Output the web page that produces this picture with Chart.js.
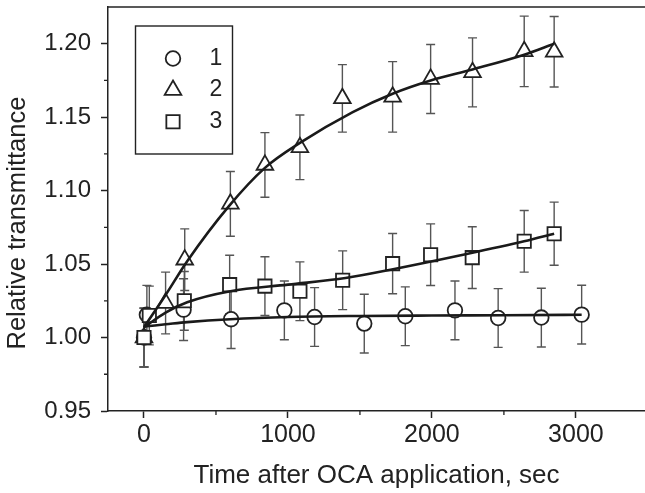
<!DOCTYPE html>
<html>
<head>
<meta charset="utf-8">
<script src="https://cdn.jsdelivr.net/npm/chart.js@4.4.1/dist/chart.umd.min.js"></script>
<style>
  html, body { margin: 0; padding: 0; background: #fff; }
</style>
</head>
<body>
<canvas id="chart" width="645" height="493"></canvas>
<script>
// series 1 (circles)
const t1 = [0, 20, 275, 605, 975, 1185, 1530, 1815, 2160, 2460, 2760, 3040];
const y1 = [1.000, 1.0155, 1.019, 1.0125, 1.0185, 1.014, 1.0095, 1.0145, 1.0185, 1.0133, 1.0136, 1.0156];
const e1 = [0.02, 0.02, 0.021, 0.02, 0.02, 0.02, 0.02, 0.02, 0.02, 0.02, 0.02, 0.02];

// series 2 (triangles)
const t2 = [0, 150, 283, 600, 840, 1083, 1378, 1727, 1991, 2282, 2641, 2849];
const y2 = [1.000, 1.0235, 1.053, 1.091, 1.1175, 1.1295, 1.1628, 1.1638, 1.176, 1.1805, 1.1948, 1.1945];
const e2 = [0.02, 0.021, 0.021, 0.022, 0.022, 0.022, 0.023, 0.024, 0.0235, 0.0235, 0.024, 0.024];

// series 3 (squares)
const t3 = [0, 37, 280, 595, 840, 1083, 1380, 1727, 1991, 2280, 2641, 2849];
const y3 = [1.000, 1.015, 1.025, 1.036, 1.035, 1.0315, 1.039, 1.0503, 1.0564, 1.0544, 1.0655, 1.0707];
const e3 = [0.02, 0.02, 0.02, 0.02, 0.02, 0.02, 0.02, 0.0205, 0.021, 0.021, 0.021, 0.0215];

// fitted curves
const fit1x = [0, 150, 300, 600, 1000, 1500, 2000, 2500, 3040];
const fit1y = [1.0075, 1.009, 1.0105, 1.0125, 1.014, 1.0147, 1.015, 1.0152, 1.0155];
const fit2x = [0, 150, 300, 590, 840, 1083, 1450, 1727, 1991, 2282, 2641, 2849];
const fit2y = [1.007, 1.029, 1.052, 1.0895, 1.1155, 1.1325, 1.1535, 1.166, 1.175, 1.1825, 1.1925, 1.200];
const fit3x = [0, 150, 300, 600, 1000, 1400, 1730, 2200, 2640, 2849];
const fit3y = [1.007, 1.017, 1.024, 1.0315, 1.036, 1.0405, 1.0465, 1.056, 1.0655, 1.0707];

const xTicks = [0, 1000, 2000, 3000];
const xMinor = [500, 1500, 2500];
const yTicks = [0.95, 1.00, 1.05, 1.10, 1.15, 1.20];
const yMinor = [0.975, 1.025, 1.075, 1.125, 1.175];
const legendLabels = ['1', '2', '3'];
const yTitle = 'Relative transmittance';
const xTitle = 'Time after OCA application, sec';

const ink = '#222';
const family = '"Liberation Sans", Arial, Helvetica, sans-serif';

const toPts = (xs, ys) => xs.map((x, i) => ({ x, y: ys[i] }));

function markerSet(label, xs, ys, errs, style, radius, order) {
  return {
    label, data: toPts(xs, ys), errors: errs, isMarker: true,
    showLine: false, order,
    pointStyle: style, pointRadius: radius, pointHoverRadius: radius,
    pointBackgroundColor: '#fff', pointBorderColor: ink, pointBorderWidth: 1.8
  };
}

function fitSet(xs, ys) {
  return {
    data: toPts(xs, ys), showLine: true, order: 0,
    borderColor: '#1a1a1a', borderWidth: 2.6, pointRadius: 0,
    cubicInterpolationMode: 'monotone', fill: false
  };
}

const errorBars = {
  id: 'errorBars',
  beforeDatasetsDraw(chart) {
    const { ctx, scales: { x, y } } = chart;
    ctx.save();
    ctx.strokeStyle = '#555';
    ctx.lineWidth = 1.4;
    chart.data.datasets.forEach(ds => {
      if (!ds.errors) return;
      ds.data.forEach((p, i) => {
        const px = x.getPixelForValue(p.x);
        const top = y.getPixelForValue(p.y + ds.errors[i]);
        const bot = y.getPixelForValue(p.y - ds.errors[i]);
        ctx.beginPath();
        ctx.moveTo(px, top); ctx.lineTo(px, bot);
        ctx.moveTo(px - 4.5, top); ctx.lineTo(px + 4.5, top);
        ctx.moveTo(px - 4.5, bot); ctx.lineTo(px + 4.5, bot);
        ctx.stroke();
      });
    });
    ctx.restore();
  }
};

// top frame line, minor ticks and the y title (sits a bit below centre in the original)
const frame = {
  id: 'frame',
  afterDraw(chart) {
    const { ctx, chartArea: a, scales: { x, y } } = chart;
    ctx.save();
    ctx.strokeStyle = ink;
    ctx.lineWidth = 1.5;
    ctx.beginPath();
    ctx.moveTo(a.left, a.top); ctx.lineTo(a.right, a.top);
    ctx.stroke();
    ctx.lineWidth = 1.3;
    ctx.beginPath();
    xMinor.forEach(v => {
      const px = x.getPixelForValue(v);
      ctx.moveTo(px, a.bottom); ctx.lineTo(px, a.bottom + 4);
    });
    yMinor.forEach(v => {
      const py = y.getPixelForValue(v);
      ctx.moveTo(a.left - 4, py); ctx.lineTo(a.left, py);
    });
    ctx.stroke();

    ctx.translate(18, (a.top + a.bottom) / 2 + 14);
    ctx.rotate(-Math.PI / 2);
    ctx.fillStyle = ink;
    ctx.font = '25.6px ' + family;
    ctx.textAlign = 'center';
    ctx.textBaseline = 'middle';
    ctx.fillText(yTitle, 0, 0);
    ctx.restore();
  }
};

const boxLegend = {
  id: 'boxLegend',
  afterDraw(chart) {
    const { ctx } = chart;
    const left = 135.5, top = 26, w = 97, h = 128;
    ctx.save();
    ctx.strokeStyle = ink;
    ctx.lineWidth = 1.4;
    ctx.strokeRect(left, top, w, h);
    const rows = chart.data.datasets.filter(ds => ds.isMarker)
      .sort((a, b) => a.label.localeCompare(b.label));
    rows.forEach((ds, i) => {
      const cy = 58.5 + i * 31.6;
      if (Chart.helpers && Chart.helpers.drawPoint) {
        ctx.fillStyle = '#fff';
        ctx.strokeStyle = ink;
        ctx.lineWidth = ds.pointBorderWidth;
        Chart.helpers.drawPoint(ctx, {
          pointStyle: ds.pointStyle, radius: ds.pointRadius,
          rotation: 0, borderWidth: ds.pointBorderWidth
        }, 173, cy);
      }
      ctx.fillStyle = ink;
      ctx.font = '23px ' + family;
      ctx.textAlign = 'center';
      ctx.textBaseline = 'middle';
      ctx.fillText(legendLabels[i], 216, cy);
    });
    ctx.restore();
  }
};

new Chart(document.getElementById('chart'), {
  type: 'scatter',
  data: {
    datasets: [
      fitSet(fit1x, fit1y),
      fitSet(fit2x, fit2y),
      fitSet(fit3x, fit3y),
      markerSet('1', t1, y1, e1, 'circle', 7.3, 3),
      markerSet('2', t2, y2, e2, 'triangle', 9.6, 2),
      markerSet('3', t3, y3, e3, 'rect', 9.4, 1)
    ]
  },
  options: {
    responsive: false,
    animation: false,
    layout: { autoPadding: false, padding: { top: 7, right: 0, bottom: 0, left: 0 } },
    plugins: { legend: { display: false }, tooltip: { enabled: false } },
    scales: {
      x: {
        type: 'linear', min: -250, max: 3480,
        afterBuildTicks: s => { s.ticks = xTicks.map(v => ({ value: v })); },
        afterFit: s => { s.height = 82; s.paddingLeft = 0; s.paddingRight = 0; },
        border: { display: true, color: ink, width: 1.5 },
        grid: { drawOnChartArea: false, tickLength: 7, tickColor: ink, tickWidth: 1.5 },
        ticks: { color: ink, font: { family, size: 25 }, padding: 2, maxRotation: 0,
                 callback: v => String(v) },
        title: { display: true, text: xTitle, color: ink,
                 font: { family, size: 26 }, padding: { top: 0, bottom: 2 } }
      },
      y: {
        type: 'linear', min: 0.95, max: 1.225,
        afterBuildTicks: s => { s.ticks = yTicks.map(v => ({ value: v })); },
        afterFit: s => { s.width = 108; s.paddingTop = 0; s.paddingBottom = 0; },
        border: { display: true, color: ink, width: 1.5 },
        grid: { drawOnChartArea: false, tickLength: 7, tickColor: ink, tickWidth: 1.5 },
        ticks: { color: ink, font: { family, size: 24 }, padding: 10,
                 callback: v => v.toFixed(2) },
        title: { display: false }
      }
    }
  },
  plugins: [errorBars, frame, boxLegend]
});
</script>
</body>
</html>
